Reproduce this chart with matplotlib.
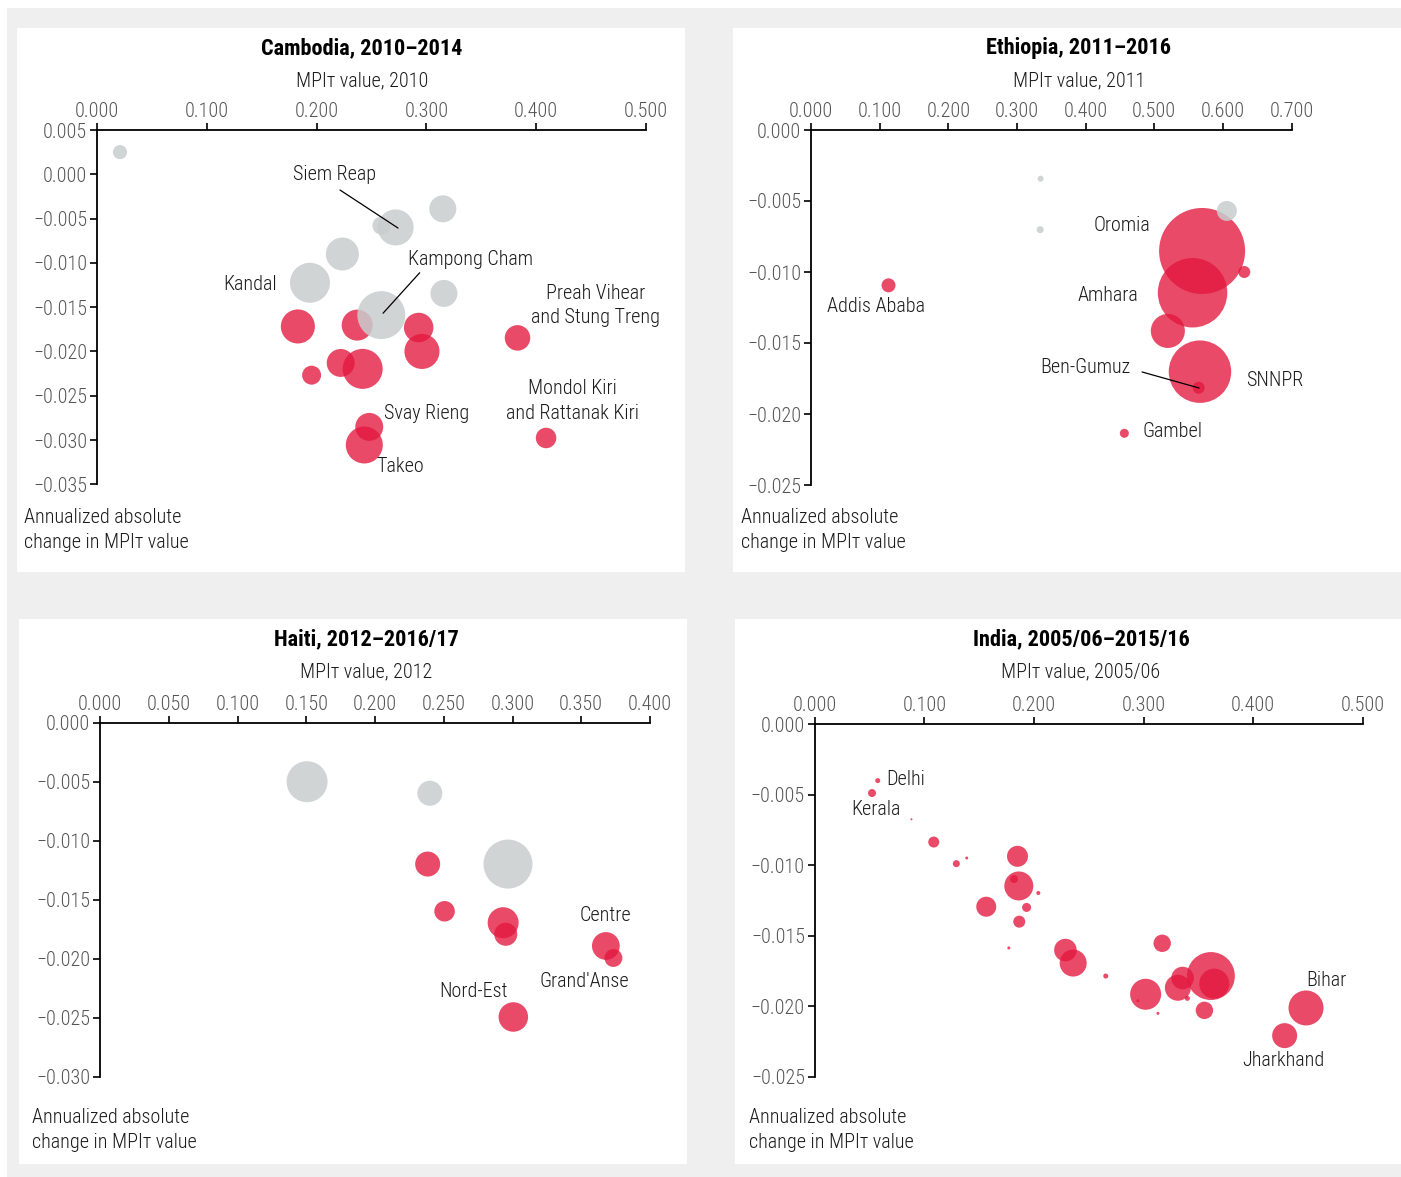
import matplotlib
matplotlib.use('Agg')
import matplotlib.pyplot as plt
from matplotlib import font_manager as fm
from matplotlib.patches import Rectangle
from matplotlib.ticker import FuncFormatter

names = {f.name for f in fm.fontManager.ttflist}
FAM = 'DejaVu Sans'
for cand in ['Roboto Condensed', 'Fira Sans Condensed', 'Barlow Semi Condensed',
             'Archivo Narrow', 'Asap Condensed', 'Liberation Sans Narrow']:
    if cand in names:
        FAM = cand
        break
plt.rcParams['font.family'] = [FAM, 'DejaVu Sans']

# ---------------- data ----------------
# Cambodia: x = MPIT 2010, y = annualized absolute change, pop = relative population (bubble area)
cam_x = [0.021, 0.272, 0.259, 0.315, 0.2235, 0.194, 0.259, 0.316,
         0.183, 0.237, 0.293, 0.296, 0.222, 0.242, 0.1955, 0.383, 0.248, 0.2435, 0.409]
cam_y = [0.0025, -0.0060, -0.0058, -0.0039, -0.0090, -0.01225, -0.0159, -0.01345,
         -0.01718, -0.01703, -0.0173, -0.0200, -0.0213, -0.02197, -0.02268, -0.01847,
         -0.02852, -0.03056, -0.02977]
cam_pop = [2.0, 13.0, 3.2, 7.3, 10.9, 16.0, 23.0, 7.3,
           11.6, 9.6, 8.7, 12.3, 7.8, 16.0, 3.6, 6.5, 7.8, 13.7, 4.2]
cam_sig = [0, 0, 0, 0, 0, 0, 0, 0, 1, 1, 1, 1, 1, 1, 1, 1, 1, 1, 1]

# Ethiopia
eth_x = [0.3343, 0.3337, 0.6058, 0.1127, 0.5697, 0.6312, 0.5558, 0.5198, 0.5666, 0.5647, 0.4564]
eth_y = [-0.00343, -0.00702, -0.0057, -0.01094, -0.00852, -0.0100, -0.01146, -0.01415,
         -0.01702, -0.01815, -0.02136]
eth_pop = [0.36, 0.49, 4.0, 1.96, 74.0, 1.44, 48.3, 11.6, 39.0, 1.44, 0.81]
eth_sig = [0, 0, 0, 1, 1, 1, 1, 1, 1, 1, 1]

# Haiti
hai_x = [0.1506, 0.2399, 0.2967, 0.2383, 0.2506, 0.2932, 0.2951, 0.3679, 0.3734, 0.3006]
hai_y = [-0.0050, -0.00598, -0.01198, -0.01198, -0.01598, -0.01695, -0.01793, -0.01892,
         -0.01994, -0.02494]
hai_pop = [16.8, 6.25, 24.0, 6.25, 4.2, 9.6, 5.3, 7.7, 3.2, 8.7]
hai_sig = [0, 0, 0, 1, 1, 1, 1, 1, 1, 1]

# India
ind_x = [0.0575, 0.0523, 0.0883, 0.1086, 0.1292, 0.1387, 0.1850, 0.1862, 0.1818, 0.2040,
         0.1565, 0.1933, 0.1866, 0.1771, 0.2287, 0.2358, 0.2655, 0.3170, 0.3019, 0.2948,
         0.3131, 0.3313, 0.3356, 0.3614, 0.3645, 0.3400, 0.3555, 0.4482, 0.4287]
ind_y = [-0.00401, -0.00489, -0.00675, -0.00836, -0.00989, -0.00949, -0.00937, -0.01147,
         -0.01098, -0.01197, -0.01294, -0.01299, -0.01400, -0.01586, -0.01601, -0.01693,
         -0.01785, -0.01553, -0.01914, -0.0196, -0.02049, -0.01868, -0.01799, -0.01785,
         -0.01839, -0.01943, -0.02028, -0.02011, -0.02207]
ind_pop = [0.25, 0.64, 0.04, 1.21, 0.49, 0.09, 4.41, 8.41, 0.64, 0.16,
           4.0, 0.81, 1.44, 0.09, 5.1, 7.29, 0.25, 3.03, 9.61, 0.09,
           0.09, 6.76, 5.1, 23.0, 9.0, 0.25, 3.03, 12.25, 6.25]
ind_sig = [1] * len(ind_x)

cam_xticks = [0.0, 0.1, 0.2, 0.3, 0.4, 0.5]
cam_yticks = [0.005, 0.0, -0.005, -0.010, -0.015, -0.020, -0.025, -0.030, -0.035]
eth_xticks = [0.0, 0.1, 0.2, 0.3, 0.4, 0.5, 0.6, 0.7]
eth_yticks = [0.0, -0.005, -0.010, -0.015, -0.020, -0.025]
hai_xticks = [0.0, 0.05, 0.1, 0.15, 0.2, 0.25, 0.3, 0.35, 0.4]
hai_yticks = [0.0, -0.005, -0.010, -0.015, -0.020, -0.025, -0.030]
ind_xticks = [0.0, 0.1, 0.2, 0.3, 0.4, 0.5]
ind_yticks = [0.0, -0.005, -0.010, -0.015, -0.020, -0.025]

titles = ['Cambodia, 2010\u20132014', 'Ethiopia, 2011\u20132016',
          'Haiti, 2012\u20132016/17', 'India, 2005/06\u20132015/16']
years = ['2010', '2011', '2012', '2005/06']

# ---------------- style ----------------
W, H = 1401, 1177
RED = '#e3173e'
GRAY = '#c9cdcd'
SCALE = 51.84
TXT = '#1a1a1a'
TICKC = '#555555'
LIGHT = 300

fig = plt.figure(figsize=(W / 100, H / 100), dpi=100)
fig.patch.set_facecolor('white')


def frac_rect(x0, y0, x1, y1):
    return (x0 / W, 1 - y1 / H, (x1 - x0) / W, (y1 - y0) / H)


fig.patches.append(Rectangle((7 / W, 0), 1, 1 - 8 / H, transform=fig.transFigure,
                             facecolor='#efefef', edgecolor='none', zorder=-10))
for (x0, y0, x1, y1) in [(17, 28, 685, 572), (733, 28, 1401, 572),
                         (19, 619, 687, 1164), (735, 619, 1401, 1164)]:
    fig.patches.append(Rectangle((x0 / W, 1 - y1 / H), (x1 - x0) / W, (y1 - y0) / H,
                                 transform=fig.transFigure, facecolor='white',
                                 edgecolor='none', zorder=-9))


def fmt(v, pos):
    s = '{:.3f}'.format(abs(v))
    return ('\u2212' + s) if v < -1e-12 else s


def make_ax(rect, xticks, yticks, xs, ys, pops, sig):
    ax = fig.add_axes(frac_rect(*rect))
    ax.set_facecolor('none')
    ax.set_xlim(xticks[0], xticks[-1])
    ax.set_ylim(yticks[-1], yticks[0])
    ax.set_xticks(xticks)
    ax.set_yticks(yticks)
    ax.xaxis.tick_top()
    ax.xaxis.set_major_formatter(FuncFormatter(fmt))
    ax.yaxis.set_major_formatter(FuncFormatter(fmt))
    for s in ['bottom', 'right']:
        ax.spines[s].set_visible(False)
    for s in ['top', 'left']:
        ax.spines[s].set_linewidth(1.3)
        ax.spines[s].set_color('black')
    ax.tick_params(direction='out', length=5, width=1.2, colors='black',
                   labelcolor=TICKC, labelsize=14.5)
    ax.tick_params(axis='x', pad=1.5)
    ax.tick_params(axis='y', pad=2)
    for lab in ax.get_xticklabels() + ax.get_yticklabels():
        lab.set_fontweight(LIGHT)
    rx = [x for x, g in zip(xs, sig) if g]
    ry = [y for y, g in zip(ys, sig) if g]
    rp = [p * SCALE for p, g in zip(pops, sig) if g]
    gx = [x for x, g in zip(xs, sig) if not g]
    gy = [y for y, g in zip(ys, sig) if not g]
    gp = [p * SCALE for p, g in zip(pops, sig) if not g]
    ax.scatter(rx, ry, s=rp, color=RED, alpha=0.78, linewidths=0, zorder=3, clip_on=False)
    ax.scatter(gx, gy, s=gp, color=GRAY, alpha=0.85, linewidths=0, zorder=4, clip_on=False)
    return ax


ax1 = make_ax((96.9, 130, 646, 484.3), cam_xticks, cam_yticks, cam_x, cam_y, cam_pop, cam_sig)
ax2 = make_ax((811.2, 130, 1291.5, 485), eth_xticks, eth_yticks, eth_x, eth_y, eth_pop, eth_sig)
ax3 = make_ax((100, 722.7, 650, 1076.7), hai_xticks, hai_yticks, hai_x, hai_y, hai_pop, hai_sig)
ax4 = make_ax((814.7, 724, 1362.8, 1077), ind_xticks, ind_yticks, ind_x, ind_y, ind_pop, ind_sig)

# titles and axis titles
for (cx, ty, sy), t, yr in zip([(362, 48, 81), (1079, 48, 81), (366, 639, 672), (1081, 639, 672)],
                               titles, years):
    fig.text(cx / W, 1 - ty / H, t, ha='center', va='center', fontsize=16,
             fontweight='bold', color='black')
    fig.text(cx / W, 1 - sy / H, 'MPI\u1d1b value, ' + yr, ha='center', va='center',
             fontsize=14.5, color=TXT, fontweight=LIGHT)

for (lx, ly) in [(24, 530), (741, 530), (32, 1130), (749, 1130)]:
    fig.text(lx / W, 1 - ly / H, 'Annualized absolute\nchange in MPI\u1d1b value', ha='left',
             va='center', fontsize=14.5, color=TXT, linespacing=1.42, fontweight=LIGHT)

LBL = dict(fontsize=14.5, color=TXT, va='center', zorder=6, fontweight=LIGHT)
LINE = dict(arrowstyle='-', color='black', lw=0.9, shrinkA=0, shrinkB=0)

# Cambodia labels
ax1.text(0.2159, -0.00008, 'Siem Reap', ha='center', **LBL)
ax1.annotate('', xy=(0.2742, -0.00607), xytext=(0.2214, -0.00178), arrowprops=LINE, zorder=6)
ax1.text(0.2833, -0.00958, 'Kampong Cham', ha='left', **LBL)
ax1.annotate('', xy=(0.2606, -0.01568), xytext=(0.2939, -0.01112), arrowprops=LINE, zorder=6)
ax1.text(0.1640, -0.0124, 'Kandal', ha='right', **LBL)
ax1.text(0.4537, -0.01483, 'Preah Vihear\nand Stung Treng', ha='center', linespacing=1.38, **LBL)
ax1.text(0.4327, -0.02557, 'Mondol Kiri\nand Rattanak Kiri', ha='center', linespacing=1.38, **LBL)
ax1.text(0.2615, -0.02698, 'Svay Rieng', ha='left', **LBL)
ax1.text(0.2542, -0.03297, 'Takeo', ha='left', **LBL)

# Ethiopia labels
ax2.text(0.4122, -0.00676, 'Oromia', ha='left', **LBL)
ax2.text(0.3889, -0.01169, 'Amhara', ha='left', **LBL)
ax2.text(0.0230, -0.01246, 'Addis Ababa', ha='left', **LBL)
ax2.text(0.3335, -0.01676, 'Ben-Gumuz', ha='left', **LBL)
ax2.annotate('', xy=(0.5653, -0.01817), xytext=(0.4822, -0.01704), arrowprops=LINE, zorder=6)
ax2.text(0.6338, -0.01761, 'SNNPR', ha='left', **LBL)
ax2.text(0.4822, -0.0212, 'Gambel', ha='left', **LBL)

# Haiti labels
ax3.text(0.3491, -0.0163, 'Centre', ha='left', **LBL)
ax3.text(0.3193, -0.02197, "Grand'Anse", ha='left', **LBL)
ax3.text(0.2967, -0.02282, 'Nord-Est', ha='right', **LBL)

# India labels
ax4.text(0.0651, -0.0039, 'Delhi', ha='left', **LBL)
ax4.text(0.0331, -0.00602, 'Kerala', ha='left', **LBL)
ax4.text(0.4482, -0.0182, 'Bihar', ha='left', **LBL)
ax4.text(0.3898, -0.0238, 'Jharkhand', ha='left', **LBL)

fig.savefig('out.png', dpi=100, facecolor=fig.get_facecolor())
